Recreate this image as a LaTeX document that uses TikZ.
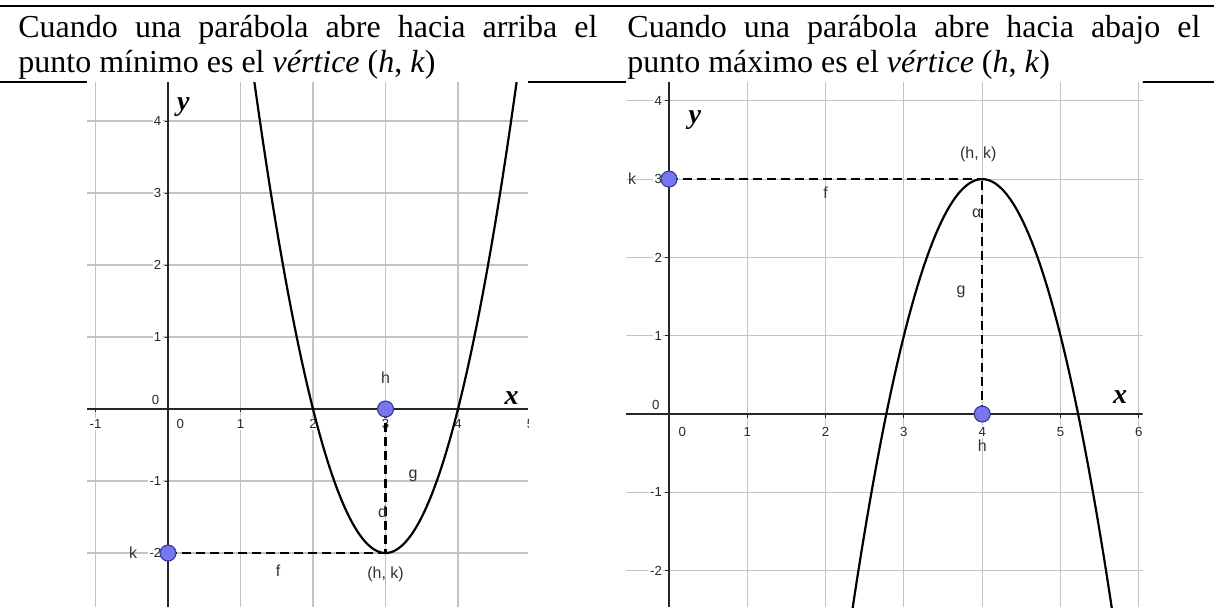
\documentclass[tikz,border=0pt]{standalone}
\usepackage{fontspec}
\setmainfont{Liberation Serif}
\newfontfamily\gsans{Liberation Sans}
\definecolor{gridc}{RGB}{196,196,196}
\definecolor{ptfill}{RGB}{118,118,238}
\definecolor{ptdraw}{RGB}{55,55,150}
\definecolor{ticktext}{RGB}{40,40,40}
\tikzset{
  gridline/.style={gridc, line width=0.55pt},
  axisline/.style={black!85, line width=0.8pt},
  curveline/.style={black, line width=1.1pt},
  guide/.style={black, line width=1.2pt, dash pattern=on 4.5pt off 2.5pt},
  ticklbl/.style={font=\gsans\fontsize{6.6}{7.5}\selectfont, text=ticktext, fill=white, inner sep=0.6pt},
  ptlbl/.style={font=\gsans\fontsize{8}{9.5}\selectfont, text=black!80, inner sep=0pt},
  axlbl/.style={font=\bfseries\itshape\fontsize{14}{15}\selectfont, inner sep=0pt},
  gpoint/.style={circle, fill=ptfill, draw=ptdraw, line width=0.55pt, minimum size=8pt, inner sep=0pt},
  hdr/.style={font=\fontsize{16}{18}\selectfont, inner sep=0pt, anchor=base west},
  rule/.style={black, line width=1pt}
}
\begin{document}
\begin{tikzpicture}[x=0.5pt, y=-0.5pt]
\useasboundingbox (0,0) rectangle (1214,607);
\fill[white] (0,0) rectangle (1214,607);

% ---------- header ----------
\draw[rule] (0,6) -- (1214,6);
\draw[rule] (0,82) -- (87,82);
\draw[rule] (528,82) -- (626,82);
\draw[rule] (1143,82) -- (1214,82);
\draw[black, line width=0.5pt] (626,82) -- (1143,82);

\node[hdr] (l1) at (18,37) {\makebox[289.5pt][s]{Cuando una parábola abre hacia arriba el}};
\node[hdr] (l2) at (18,72) {punto mínimo es el \textit{vértice} (\textit{h}, \textit{k})};
\node[hdr] (r1) at (627,37) {\makebox[286.5pt][s]{Cuando una parábola abre hacia abajo el}};
\node[hdr] (r2) at (627,72) {punto máximo es el \textit{vértice} (\textit{h}, \textit{k})};

% ---------- left graph ----------
\begin{scope}[shift={(168,409)}, x=36.25pt, y=36pt]
  \begin{scope}
    \clip (-1.117,-2.75) rectangle (4.966,4.54);
    \fill[white] (-1.117,-2.75) rectangle (4.966,4.54);
    \foreach \i in {-1,1,2,3,4,5} \draw[gridline] (\i,-2.75) -- (\i,4.54);
    \foreach \j in {-2,-1,1,2,3,4} \draw[gridline] (-1.117,\j) -- (4.966,\j);
    \draw[axisline] (-1.117,0) -- (4.966,0);
    \draw[axisline] (0,-2.75) -- (0,4.54);
    \foreach \i in {-1,1,2,3,4,5} \draw[axisline, line width=0.5pt] (\i,0) -- (\i,-0.045);
    \foreach \j in {-2,-1,1,2,3,4} \draw[axisline, line width=0.5pt] (0,\j) -- (-0.045,\j);
    \foreach \i [count=\n] in {-1,1,2,3,4,5} \node[ticklbl] (lx\n) at (\i,-0.21) {\i};
    \node[ticklbl] (lx0) at (0.17,-0.21) {0};
    \foreach \j [count=\n] in {4,3,2,1,-1,-2} \node[ticklbl, anchor=east] (ly\n) at (-0.07,\j) {\j};
    \node[ticklbl, anchor=east] (ly0) at (-0.1,0.12) {0};
    \draw[curveline, domain=1.1:4.9, samples=90, smooth] plot (\x, {2*(\x-3)*(\x-3)-2});
    \coordinate (Lh) at (3,0);
    \coordinate (Lk) at (0,-2);
    \coordinate (Lv) at (3,-2);
    \draw[guide] (Lk) -- (Lv);
    \draw[guide] (Lh) -- (Lv);
    \node[gpoint] (Lhp) at (Lh) {};
    \node[gpoint] (Lkp) at (Lk) {};
    \node[ptlbl] (Lhl) at (3,0.43) {h};
    \node[ptlbl] (Lkl) at (-0.48,-2) {k};
    \node[ptlbl] (Lvl) at (3.0,-2.29) {(h, k)};
    \node[ptlbl] (Lfl) at (1.52,-2.24) {f};
    \node[ptlbl] (Ldl) at (2.96,-1.43) {d};
    \node[ptlbl] (Lgl) at (3.38,-0.93) {g};
    \node[axlbl] (Lyl) at (0.21,4.19) {y};
    \node[axlbl] (Lxl) at (4.74,0.15) {x};
  \end{scope}
\end{scope}

% ---------- right graph ----------
\begin{scope}[shift={(669,414)}, x=39.15pt, y=39.15pt]
  \begin{scope}
    \clip (-0.549,-2.465) rectangle (6.05,4.24);
    \fill[white] (-0.549,-2.465) rectangle (6.05,4.24);
    \foreach \i in {1,2,3,4,5,6} \draw[gridline] (\i,-2.465) -- (\i,4.24);
    \foreach \j in {-2,-1,1,2,3,4} \draw[gridline] (-0.549,\j) -- (6.05,\j);
    \draw[axisline] (-0.549,0) -- (6.05,0);
    \draw[axisline] (0,-2.465) -- (0,4.24);
    \foreach \i in {1,2,3,4,5,6} \draw[axisline, line width=0.5pt] (\i,0) -- (\i,-0.045);
    \foreach \j in {-2,-1,1,2,3,4} \draw[axisline, line width=0.5pt] (0,\j) -- (-0.045,\j);
    \foreach \i [count=\n] in {1,2,3,4,5,6} \node[ticklbl] (rx\n) at (\i,-0.23) {\i};
    \node[ticklbl] (rx0) at (0.17,-0.23) {0};
    \foreach \j [count=\n] in {4,3,2,1,-1,-2} \node[ticklbl, anchor=east] (ry\n) at (-0.07,\j) {\j};
    \node[ticklbl, anchor=east] (ry0) at (-0.1,0.11) {0};
    \draw[curveline, domain=2.3:5.7, samples=90, smooth] plot (\x, {-2*(\x-4)*(\x-4)+3});
    \coordinate (Rh) at (4,0);
    \coordinate (Rk) at (0,3);
    \coordinate (Rv) at (4,3);
    \draw[guide] (Rk) -- (Rv);
    \draw[guide] (Rh) -- (Rv);
    \node[gpoint] (Rhp) at (Rh) {};
    \node[gpoint] (Rkp) at (Rk) {};
    \node[ptlbl] (Rhl) at (4,-0.41) {h};
    \node[ptlbl] (Rkl) at (-0.47,3) {k};
    \node[ptlbl] (Rvl) at (3.95,3.31) {(h, k)};
    \node[ptlbl] (Rfl) at (2.0,2.82) {f};
    \node[ptlbl] (Ral) at (3.93,2.57) {α};
    \node[ptlbl] (Rgl) at (3.73,1.56) {g};
    \node[axlbl] (Ryl) at (0.33,3.75) {y};
    \node[axlbl] (Rxl) at (5.76,0.22) {x};
  \end{scope}
\end{scope}
\end{tikzpicture}
\end{document}
